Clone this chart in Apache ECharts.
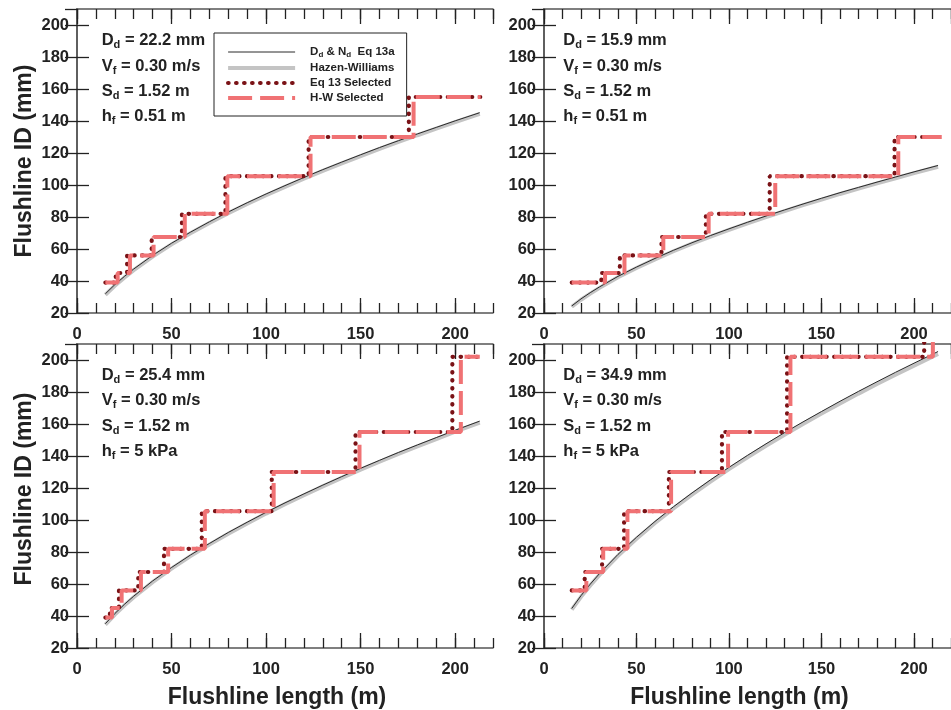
<!DOCTYPE html>
<html><head><meta charset="utf-8">
<script src="https://cdn.jsdelivr.net/npm/echarts@6/dist/echarts.min.js"></script>
<style>html,body{margin:0;padding:0;background:#fff}#c{width:951px;height:710px}</style>
</head><body><div id="c"></div>
<script>
// ---------------- DATA ----------------
const xMajorTicks = [0, 50, 100, 150, 200];
const yTicks = [20, 40, 60, 80, 100, 120, 140, 160, 180, 200];

// Flushline length (m) at which the continuous curves were read
const curveX = [15, 20, 25, 30, 40, 50, 60, 70, 80, 90, 100, 110, 120, 130, 140, 150, 160, 170, 180, 190, 200, 213];

// Panel A: Dd = 22.2 mm, hf = 0.51 m
const aEq13a = [32.0, 37.7, 42.8, 47.5, 56.0, 63.6, 70.5, 77.0, 83.1, 88.9, 94.4, 99.6, 104.7, 109.6, 114.3, 118.9, 123.4, 127.7, 131.9, 136.0, 140.1, 145.2];
const aHW    = [31.4, 37.0, 42.1, 46.8, 55.3, 62.9, 69.8, 76.3, 82.4, 88.1, 93.6, 98.8, 103.9, 108.8, 113.5, 118.1, 122.6, 126.9, 131.1, 135.2, 139.3, 144.4];
const aSizes = [39, 45, 56, 67.5, 82, 105.5, 130, 155];
const aEq13Jumps = [20.5, 26.5, 39.5, 55.5, 78.5, 122.5, 175.5];
const aHWJumps   = [21.5, 28, 40.5, 57, 79.5, 123.5, 178];
const aRange = [15, 213.5];

// Panel B: Dd = 15.9 mm, hf = 0.51 m
const bEq13a = [24.4, 28.8, 32.7, 36.3, 42.9, 48.7, 54.1, 59.2, 63.9, 68.4, 72.6, 76.7, 80.6, 84.4, 88.1, 91.7, 95.2, 98.5, 101.8, 105.0, 108.2, 112.2];
const bHW    = [23.9, 28.3, 32.1, 35.7, 42.3, 48.1, 53.5, 58.6, 63.3, 67.7, 71.9, 76.0, 79.9, 83.7, 87.4, 90.9, 94.4, 97.7, 101.0, 104.2, 107.4, 111.4];
const bSizes = [39, 45, 56, 67.5, 82, 105.5, 130];
const bEq13Jumps = [31, 41, 63.5, 87.5, 122, 189.5];
const bHWJumps   = [33, 43.5, 64.5, 89, 125, 191.5];
const bRange = [15, 215];

// Panel C: Dd = 25.4 mm, hf = 5 kPa
const cEq13a = [35.2, 41.5, 47.2, 52.4, 61.9, 70.3, 78.1, 85.3, 92.2, 98.6, 104.8, 110.7, 116.3, 121.8, 127.1, 132.3, 137.3, 142.2, 146.9, 151.5, 156.1, 161.8];
const cHW    = [34.6, 40.9, 46.5, 51.7, 61.2, 69.6, 77.4, 84.6, 91.4, 97.8, 104.0, 109.9, 115.5, 121.0, 126.3, 131.5, 136.4, 141.3, 146.0, 150.6, 155.2, 160.9];
const cSizes = [39, 45, 56, 67.5, 82, 105.5, 130, 155, 202];
const cEq13Jumps = [17.4, 22.2, 32.4, 46, 66, 103, 147.3, 198.5];
const cHWJumps   = [18.5, 23.6, 33.8, 48.2, 67.6, 104, 149.4, 203];
const cRange = [15, 213];

// Panel D: Dd = 34.9 mm, hf = 5 kPa
const dEq13a = [44.7, 52.7, 59.9, 66.5, 78.5, 89.2, 99.1, 108.3, 116.9, 125.1, 132.9, 140.4, 147.6, 154.6, 161.3, 167.8, 174.2, 180.4, 186.4, 192.3, 198.0, 205.3];
const dHW    = [44.0, 52.0, 59.1, 65.7, 77.6, 88.3, 98.1, 107.3, 115.9, 124.0, 131.8, 139.2, 146.4, 153.3, 160.0, 166.5, 172.8, 179.0, 185.0, 190.8, 196.5, 203.8];
const dSizes = [56, 67.5, 82, 105.5, 130, 155, 202, 250];
const dEq13Jumps = [22, 31.4, 43.3, 67.5, 96.2, 131.4, 205.5];
const dHWJumps   = [22.9, 32, 45.1, 68.7, 99.5, 133.2, 210.2];
const dRange = [15, 213];

// Annotation texts
const panelDd = ['22.2 mm', '15.9 mm', '25.4 mm', '34.9 mm'];
const panelVf = ['0.30 m/s', '0.30 m/s', '0.30 m/s', '0.30 m/s'];
const panelSd = ['1.52 m', '1.52 m', '1.52 m', '1.52 m'];
const panelHf = ['0.51 m', '0.51 m', '5 kPa', '5 kPa'];

const seriesNames = ['Dd & Nd  Eq 13a', 'Hazen-Williams', 'Eq 13 Selected', 'H-W Selected'];
const xTitle = 'Flushline length (m)';
const yTitle = 'Flushline ID (mm)';

// ---------------- BUILD ----------------
const FONT = '"Liberation Sans", Arial, Helvetica, sans-serif';
const AXIS = '#555';
const TICK = '#222';
const TXT = '#222';
const C_BLACK = '#2a2a2a', C_GRAY = '#c4c4c4', C_DOT = '#7a1216', C_DASH = '#f07274';

const panels = [
  {eq: aEq13a, hw: aHW, sizes: aSizes, ej: aEq13Jumps, hj: aHWJumps, range: aRange},
  {eq: bEq13a, hw: bHW, sizes: bSizes, ej: bEq13Jumps, hj: bHWJumps, range: bRange},
  {eq: cEq13a, hw: cHW, sizes: cSizes, ej: cEq13Jumps, hj: cHWJumps, range: cRange},
  {eq: dEq13a, hw: dHW, sizes: dSizes, ej: dEq13Jumps, hj: dHWJumps, range: dRange}
];
const layout = [
  {left: 77, top: 9, ax: 101.7, ay: 40.7},
  {left: 544, top: 9, ax: 563.3, ay: 40.7},
  {left: 77, top: 344, ax: 101.7, ay: 375.5},
  {left: 544, top: 344, ax: 563.3, ay: 375.5}
];
const GW = 416, GH = 304;

function stepPoints(range, sizes, jumps) {
  const pts = [[range[0], sizes[0]]];
  jumps.forEach((j, i) => { pts.push([j, sizes[i]]); pts.push([j, sizes[i + 1]]); });
  pts.push([range[1], sizes[sizes.length - 1]]);
  return pts;
}

const grid = [], xAxis = [], yAxis = [], series = [], graphic = [];
const labelStyle = {fontSize: 16.5, fontWeight: 'bold', color: TXT, fontFamily: FONT};
const nameStyle = {fontSize: 23, fontWeight: 'bold', color: TXT, fontFamily: FONT};

layout.forEach((L, g) => {
  grid.push({left: L.left, top: L.top, width: GW, height: GH, containLabel: false});
  const xb = {gridIndex: g, type: 'value', min: 0, max: 220, splitLine: {show: false}};
  const bottomMain = Object.assign({}, xb, {
    position: 'bottom', interval: 50,
    axisLine: {show: true, lineStyle: {color: AXIS, width: 1.5}},
    axisTick: {show: true, inside: true, length: 15, lineStyle: {color: TICK, width: 1.3}},
    axisLabel: Object.assign({show: true, margin: 13, showMaxLabel: false, showMinLabel: true}, labelStyle)
  });
  if (g >= 2) {
    Object.assign(bottomMain, {name: xTitle, nameLocation: 'middle', nameGap: 38,
      nameTextStyle: Object.assign({padding: [0, 16, 0, 0]}, nameStyle)});
  }
  xAxis.push(bottomMain);
  xAxis.push(Object.assign({}, xb, {position: 'bottom', interval: 10,
    axisLine: {show: false}, axisLabel: {show: false},
    axisTick: {show: true, inside: true, length: 10, lineStyle: {color: TICK, width: 1.3}}}));
  xAxis.push(Object.assign({}, xb, {position: 'top', interval: 50,
    axisLine: {show: true, lineStyle: {color: AXIS, width: 1.5}}, axisLabel: {show: false},
    axisTick: {show: true, inside: true, length: 15, lineStyle: {color: TICK, width: 1.3}}}));
  xAxis.push(Object.assign({}, xb, {position: 'top', interval: 10,
    axisLine: {show: false}, axisLabel: {show: false},
    axisTick: {show: true, inside: true, length: 10, lineStyle: {color: TICK, width: 1.3}}}));

  const yb = {gridIndex: g, type: 'value', min: 20, max: 210, interval: 20, splitLine: {show: false}};
  const leftY = Object.assign({}, yb, {position: 'left',
    axisLine: {show: true, lineStyle: {color: AXIS, width: 1.5}},
    axisTick: {show: true, inside: true, length: 12, lineStyle: {color: TICK, width: 1.3}},
    axisLabel: Object.assign({show: true, margin: 8, showMaxLabel: false}, labelStyle)});
  if (g % 2 === 0) {
    Object.assign(leftY, {name: yTitle, nameLocation: 'middle', nameGap: 41, nameRotate: 90,
      nameTextStyle: Object.assign({padding: g === 2 ? [0, 0, 0, 14] : [0, 0, 0, 0]}, nameStyle)});
  }
  yAxis.push(leftY);
  yAxis.push(Object.assign({}, yb, {position: 'right',
    axisLine: {show: true, lineStyle: {color: AXIS, width: 1.5}}, axisLabel: {show: false},
    axisTick: {show: true, inside: true, length: 12, lineStyle: {color: TICK, width: 1.3}}}));

  const P = panels[g];
  const common = {type: 'line', xAxisIndex: g * 4, yAxisIndex: g * 2, symbol: 'none', showSymbol: false,
    silent: true, animation: false, clip: true};
  series.push(Object.assign({}, common, {name: seriesNames[1], z: 2,
    data: curveX.map((x, i) => [x, P.hw[i]]), lineStyle: {color: C_GRAY, width: 4}}));
  series.push(Object.assign({}, common, {name: seriesNames[0], z: 3,
    data: curveX.map((x, i) => [x, P.eq[i]]), lineStyle: {color: C_BLACK, width: 1}}));
  series.push(Object.assign({}, common, {name: seriesNames[2], z: 4,
    data: stepPoints(P.range, P.sizes, P.ej),
    lineStyle: {color: C_DOT, width: 4.2, type: [0.5, 7.5], cap: 'round'}}));
  series.push(Object.assign({}, common, {name: seriesNames[3], z: 5,
    data: stepPoints(P.range, P.sizes, P.hj),
    lineStyle: {color: C_DASH, width: 4, type: [24, 7], cap: 'butt'}}));

  // annotations
  const rich = {
    m: {fontSize: 16.5, fontWeight: 'bold', fontFamily: FONT, fill: TXT, lineHeight: 20},
    s: {fontSize: 11, fontWeight: 'bold', fontFamily: FONT, fill: TXT, lineHeight: 8, verticalAlign: 'bottom'}
  };
  const lines = [['D', 'd', ' = ' + panelDd[g]], ['V', 'f', ' = ' + panelVf[g]],
                 ['S', 'd', ' = ' + panelSd[g]], ['h', 'f', ' = ' + panelHf[g]]];
  lines.forEach((ln, k) => {
    graphic.push({type: 'text', x: L.ax, y: L.ay + k * 25.3, silent: true,
      style: {text: '{m|' + ln[0] + '}{s|' + ln[1] + '}{m|' + ln[2] + '}', rich: rich,
        align: 'left', verticalAlign: 'middle'}});
  });
});

const legendLine = [
  {width: 1, color: C_BLACK, type: 'solid'},
  {width: 4, color: C_GRAY, type: 'solid'},
  {width: 4.2, color: C_DOT, type: [0.5, 7.5], cap: 'round'},
  {width: 4, color: C_DASH, type: [24, 8], cap: 'butt'}
];

const option = {
  backgroundColor: '#fff',
  animation: false,
  grid, xAxis, yAxis, series, graphic,
  legend: {
    orient: 'vertical', left: 214, top: 33, padding: [13, 12, 12, 12],
    itemWidth: 67, itemHeight: 14, itemGap: 3,
    borderColor: '#222', borderWidth: 1, backgroundColor: '#fff',
    selectedMode: false,
    data: seriesNames.map((n, i) => ({name: n, lineStyle: legendLine[i], itemStyle: {opacity: 0}})),
    formatter: function (name) {
      if (name === seriesNames[0]) return '{a|D}{s|d}{a| & N}{s|d}{a|  Eq 13a}';
      return '{a|' + name + '}';
    },
    textStyle: {
      padding: [0, 0, 0, 10], color: TXT, fontFamily: FONT, fontSize: 11.5, fontWeight: 'bold',
      rich: {
        a: {fontSize: 11.5, fontWeight: 'bold', fontFamily: FONT, color: TXT, lineHeight: 14},
        s: {fontSize: 8, fontWeight: 'bold', fontFamily: FONT, color: TXT, lineHeight: 8, verticalAlign: 'bottom'}
      }
    }
  }
};

const chart = echarts.init(document.getElementById('c'), null, {renderer: 'canvas'});
chart.setOption(option);
</script>
</body></html>
